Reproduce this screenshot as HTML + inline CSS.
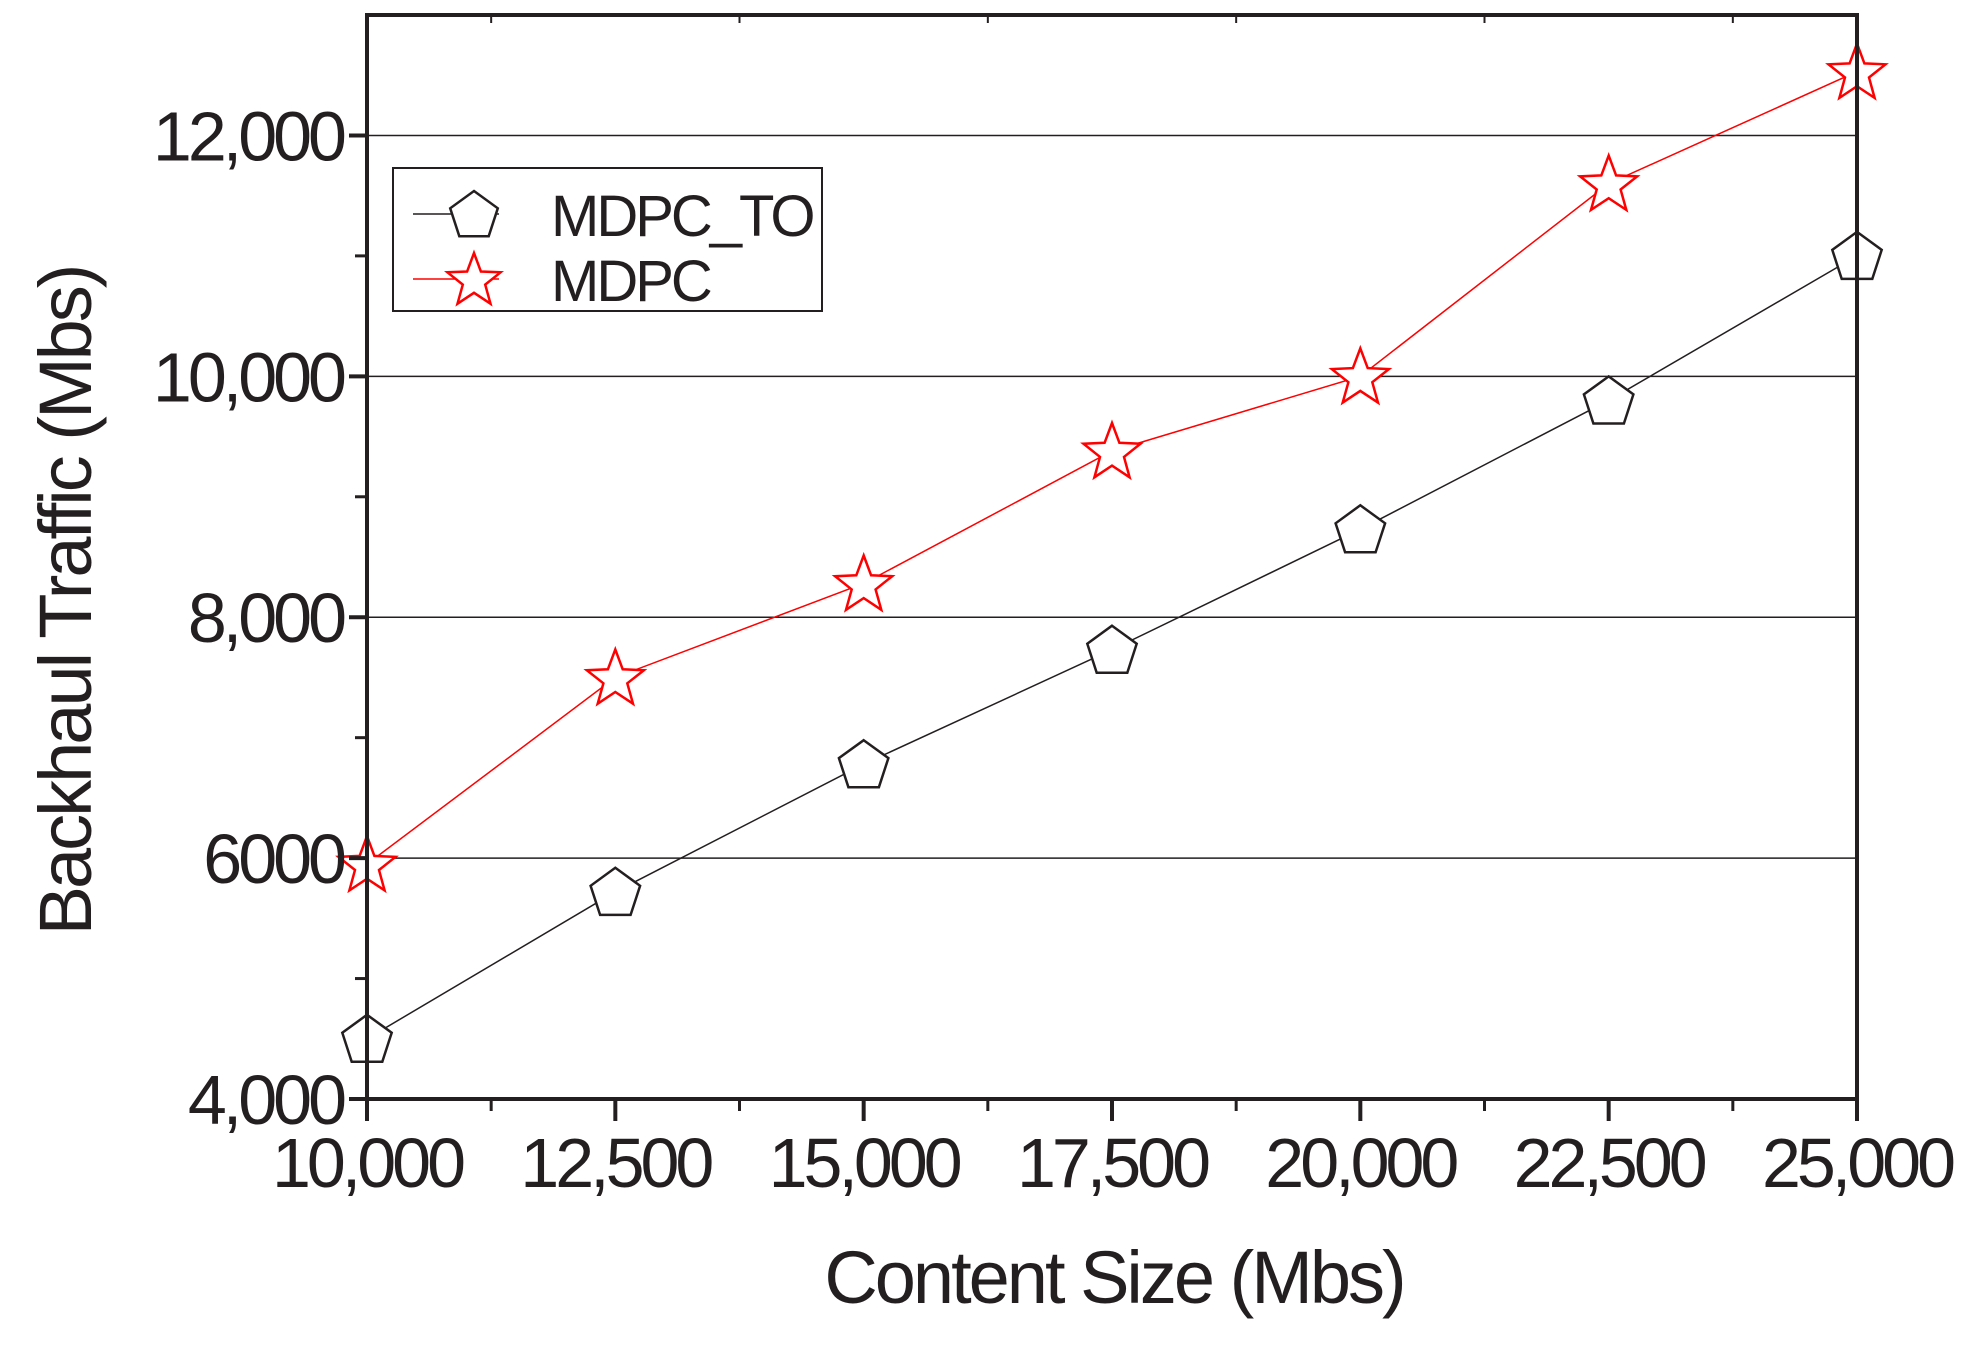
<!DOCTYPE html>
<html><head><meta charset="utf-8"><style>
html,body{margin:0;padding:0;background:#fff;}
svg text{font-family:"Liberation Sans",Arial,sans-serif;fill:#231f20;}
</style></head><body>
<svg id="chart" width="1965" height="1340" viewBox="0 0 1965 1340" xmlns="http://www.w3.org/2000/svg">
<g id="grid"></g>
<g id="series"></g>
<g id="axes"></g>
<text x="1114" y="1303" font-size="74" text-anchor="middle" letter-spacing="-3">Content Size (Mbs)</text>
<text x="0" y="0" font-size="74" text-anchor="middle" letter-spacing="-3" transform="translate(91,601) rotate(-90)">Backhaul Traffic (Mbs)</text>
<g id="legend">
<rect x="393" y="168" width="429" height="143" fill="#fff" stroke="#231f20" stroke-width="2"/>
<g>
<line x1="413" y1="214" x2="499" y2="214" stroke="#231f20" stroke-width="1.5"/>
<g id="lg1"></g>
<text x="551" y="236" font-size="58" letter-spacing="-3">MDPC_TO</text>
</g>
<g>
<line x1="413" y1="279" x2="499" y2="279" stroke="#ff0000" stroke-width="1.5"/>
<g id="lg2"></g>
<text x="551" y="301" font-size="58" letter-spacing="-3">MDPC</text>
</g>
</g>
</svg>
<script>
const categories = [10000, 12500, 15000, 17500, 20000, 22500, 25000];
const mdpcTO = [4500, 5720, 6780, 7730, 8730, 9800, 11000];
const mdpc = [5950, 7500, 8280, 9380, 10000, 11600, 12530];
const xTicks = ["10,000","12,500","15,000","17,500","20,000","22,500","25,000"];
const yTickVals = [4000, 6000, 8000, 10000, 12000];
const yTicks = ["4,000","6000","8,000","10,000","12,000"];

const NS = "http://www.w3.org/2000/svg";
const L = 367, R = 1857, T = 15, B = 1099;
const x = v => L + (v - 10000) / 15000 * (R - L);
const y = v => B - (v - 4000) / 9000 * (B - T);
function mk(tag, attrs, parent) { const e = document.createElementNS(NS, tag); for (const k in attrs) e.setAttribute(k, attrs[k]); parent.appendChild(e); return e; }
const grid = document.getElementById('grid'), axes = document.getElementById('axes'), series = document.getElementById('series');

yTickVals.forEach((v, i) => {
  if (v > 4000) {
    const g = mk('line', {x1: L, x2: R, y1: y(v), y2: y(v), stroke: '#231f20', 'stroke-width': 1.5}, grid);
    
    
  }
  const t = mk('text', {x: 343, y: y(v) + 25, 'font-size': 70, 'text-anchor': 'end', 'letter-spacing': -4}, axes);
  t.textContent = yTicks[i];
  
  
  mk('line', {x1: L - 18, x2: L, y1: y(v), y2: y(v), stroke: '#231f20', 'stroke-width': 4}, axes);
});
for (let v = 5000; v < 13000; v += 2000) {
  mk('line', {x1: L - 12, x2: L, y1: y(v), y2: y(v), stroke: '#231f20', 'stroke-width': 3}, axes);
}
categories.forEach((c, i) => {
  mk('line', {x1: x(c), x2: x(c), y1: B, y2: B + 22, stroke: '#231f20', 'stroke-width': 4}, axes);
  const t = mk('text', {x: x(c), y: B + 88, 'font-size': 70, 'text-anchor': 'middle', 'letter-spacing': -4}, axes);
  t.textContent = xTicks[i];
  
  
  if (i < categories.length - 1) {
    mk('line', {x1: x(c + 1250), x2: x(c + 1250), y1: B, y2: B + 12, stroke: '#231f20', 'stroke-width': 3}, axes);
    mk('line', {x1: x(c + 1250), x2: x(c + 1250), y1: T, y2: T + 8, stroke: '#231f20', 'stroke-width': 2}, axes);
  }
});
const frame = mk('rect', {x: L, y: T, width: R - L, height: B - T, fill: 'none', stroke: '#231f20', 'stroke-width': 4}, axes);



function pent(cx, cy, r, parent, name) {
  let p = [];
  for (let k = 0; k < 5; k++) { const a = -Math.PI / 2 + k * 2 * Math.PI / 5; p.push((cx + r * Math.cos(a)).toFixed(1) + ',' + (cy + r * Math.sin(a)).toFixed(1)); }
  const e = mk('polygon', {points: p.join(' '), fill: '#fff', stroke: '#231f20', 'stroke-width': 2.5}, parent);
  
  
}
function star(cx, cy, r, parent, name) {
  let p = [];
  for (let k = 0; k < 10; k++) { const rr = k % 2 ? r * 0.42 : r; const a = -Math.PI / 2 + k * Math.PI / 5; p.push((cx + rr * Math.cos(a)).toFixed(1) + ',' + (cy + rr * Math.sin(a)).toFixed(1)); }
  const e = mk('polygon', {points: p.join(' '), fill: '#fff', stroke: '#ff0000', 'stroke-width': 2.5}, parent);
  
  
}
const l1 = mk('polyline', {points: categories.map((c, i) => x(c) + ',' + y(mdpcTO[i])).join(' '), fill: 'none', stroke: '#231f20', 'stroke-width': 1.5}, series);


const l2 = mk('polyline', {points: categories.map((c, i) => x(c) + ',' + y(mdpc[i])).join(' '), fill: 'none', stroke: '#ff0000', 'stroke-width': 1.5}, series);


categories.forEach((c, i) => pent(x(c), y(mdpcTO[i]) + 2, 26, series, 'point-mdpc-to'));
categories.forEach((c, i) => star(x(c), y(mdpc[i]) + 2, 30, series, 'point-mdpc'));
pent(474, 216, 25, document.getElementById('lg1'), 'legend-marker-mdpc-to');
star(474, 281, 28, document.getElementById('lg2'), 'legend-marker-mdpc');
</script>
</body></html>
